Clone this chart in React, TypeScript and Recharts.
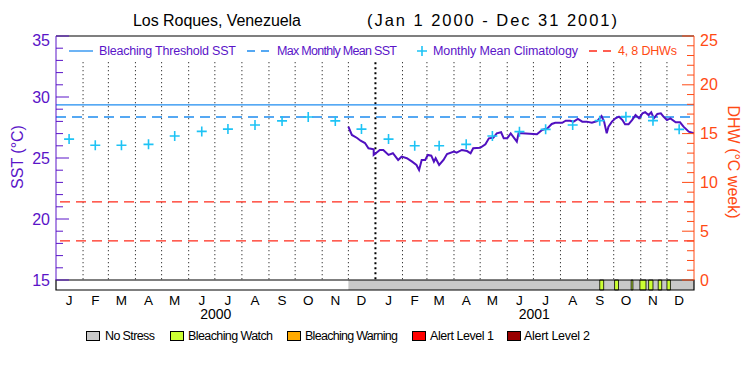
import React from 'react';
import { ComposedChart, Line, Scatter, XAxis, YAxis, ReferenceLine, ReferenceArea } from 'recharts';

// ---------------- DATA ----------------
const monthLetters = ['J', 'F', 'M', 'A', 'M', 'J', 'J', 'A', 'S', 'O', 'N', 'D'];
// days since Jan 1 2000 at which each month begins (2000-2001)
const monthStartDays = [0, 31, 60, 91, 121, 152, 182, 213, 244, 274, 305, 335, 366, 397, 425, 456, 486, 517, 547, 578, 609, 639, 670, 700];
const monthMidDays = [15, 45, 75, 106, 136, 167, 197, 228, 259, 289, 320, 350, 381, 411, 439, 470, 500, 531, 561, 592, 623, 653, 684, 714];
const yearLabels = ['2000', '2001'];
const yearMidDays = [183, 548];
const yearBoundaryDay = 366;
const totalDays = 731;

// Monthly mean climatology (°C), read at mid-month
const climValues = [26.55, 26.05, 26.05, 26.12, 26.8, 27.18, 27.37, 27.7, 28.04, 28.36, 28.04, 27.37,
  26.55, 26.0, 26.0, 26.12, 26.8, 27.16, 27.35, 27.7, 28.06, 28.39, 28.06, 27.35];

// Satellite SST (°C)
const sstDays = [335, 339, 345, 349, 354, 358, 364, 364, 371, 375, 381, 386, 392, 396, 402, 408, 413, 416, 419, 423,
  426, 430, 433, 435, 439, 444, 448, 456, 459, 465, 471, 475, 478, 486, 492, 496, 501, 505, 510, 513,
  517, 521, 528, 530, 534, 551, 557, 563, 568, 572, 580, 584, 589, 593, 598, 603, 608, 614, 620, 625,
  628, 631, 633, 637, 641, 645, 649, 652, 656, 660, 664, 668, 672, 675, 679, 682, 685, 689, 693, 696,
  700, 704, 710, 715, 719, 725, 731];
const sstValues = [27.57, 26.89, 26.64, 26.42, 26.23, 25.80, 25.71, 25.25, 25.66, 25.66, 25.25, 25.39, 24.84, 25.11, 24.98, 24.70, 24.43, 24.02, 24.84, 24.84,
  25.25, 25.19, 24.70, 24.98, 24.43, 24.84, 25.33, 25.52, 25.43, 25.66, 25.57, 25.39, 25.80, 25.84, 26.12, 26.61, 26.66, 27.02, 27.11, 26.61,
  26.61, 27.02, 26.34, 27.02, 27.02, 26.94, 27.30, 27.43, 27.79, 27.89, 27.89, 28.06, 28.06, 27.98, 28.20, 27.98, 27.98, 27.89, 28.03, 28.44,
  27.98, 27.02, 27.57, 27.98, 28.25, 28.39, 28.11, 27.76, 27.76, 28.11, 28.52, 28.25, 28.66, 28.75, 28.52, 28.75, 28.25, 28.61, 28.66, 28.39,
  28.11, 28.25, 27.93, 27.93, 27.57, 27.16, 27.02];

const bleachingThreshold = 29.36;
const maxMonthlyMean = 28.36;
const dhwLevels = [4, 8];

// Stress level bar
const noStressStart = 335;
const watchStarts = [623, 640, 659, 669, 679, 690, 700];
const watchEnds = [627.5, 644.5, 661, 676, 684, 694, 704];

const sstTicks = [15, 16, 17, 18, 19, 20, 21, 22, 23, 24, 25, 26, 27, 28, 29, 30, 31, 32, 33, 34, 35];
const dhwTicks = [0, 1, 2, 3, 4, 5, 6, 7, 8, 9, 10, 11, 12, 13, 14, 15, 16, 17, 18, 19, 20, 21, 22, 23, 24, 25];

const stressLabels = ['No Stress', 'Bleaching Watch', 'Bleaching Warning', 'Alert Level 1', 'Alert Level 2'];
const stressColors = ['#c8c8c8', '#ccff33', '#ffaa00', '#ff0000', '#990000'];

// ---------------- STYLE / LAYOUT ----------------
const FONT = '"Liberation Sans", Arial, Helvetica, sans-serif';
const PURPLE = '#5a14c8';
const LINE_PURPLE = '#5010c0';
const BLUE = '#1e8cf0';
const CYAN = '#1ec3f5';
const RED = '#ff2a1a';
const ORANGE = '#ff4a14';
const W = 750;
const H = 375;
const PL = 56;
const PR = 694;
const LEGEND_BAND_SST = 32.85;
// stress bar sits just below the plot (10px tall = 0.82 °C at 12.2 px/°C)
const BAR_TOP_SST = 15;
const BAR_BOTTOM_SST = 14.18;

const sstData = sstDays.map((d, i) => ({ day: d, sst: sstValues[i] }));
const climData = monthMidDays.map((d, i) => ({ day: d, sst: climValues[i] }));
const barDomain = [{ day: 0 }, { day: totalDays }];

const stressKeyX = [86, 170, 287, 412, 507];
const stressTextX = [105, 188, 305, 430, 524];
const stressTextW = [50, 85, 93, 64, 66];

const PlusShape = (props: any) => {
  const { cx, cy } = props;
  if (cx == null || cy == null) return null;
  return <path d={`M${cx - 5},${cy}H${cx + 5}M${cx},${cy - 5}V${cy + 5}`} stroke={CYAN} strokeWidth={1.6} fill="none" />;
};

const LeftTick = (props: any) => {
  const { y, payload } = props;
  const v = payload.value;
  const major = v % 5 === 0;
  return (
    <g>
      <line x1={PL} x2={PL + (major ? 13 : 7)} y1={y} y2={y} stroke={PURPLE} strokeWidth={1} />
      {major && (
        <text x={PL - 6} y={v === 35 ? y + 4 : y} textAnchor="end" dominantBaseline="central" fill={PURPLE} fontSize={16} fontFamily={FONT}>
          {v}
        </text>
      )}
    </g>
  );
};

const RightTick = (props: any) => {
  const { y, payload } = props;
  const v = payload.value;
  const major = v % 5 === 0;
  return (
    <g>
      <line x1={PR - (major ? 12 : 7)} x2={PR} y1={y} y2={y} stroke={ORANGE} strokeWidth={1} />
      {major && (
        <text x={PR + 6} y={v === 25 ? y + 4 : y} textAnchor="start" dominantBaseline="central" fill={ORANGE} fontSize={16} fontFamily={FONT}>
          {v}
        </text>
      )}
    </g>
  );
};

const MonthTick = (props: any) => {
  const { x, payload } = props;
  const idx = monthMidDays.indexOf(payload.value);
  return (
    <text x={x} y={300} textAnchor="middle" dominantBaseline="central" fill="#000" fontSize={13.5} fontFamily={FONT}>
      {monthLetters[idx % 12]}
    </text>
  );
};

const YearTick = (props: any) => {
  const { x, payload } = props;
  const idx = yearMidDays.indexOf(payload.value);
  return (
    <text x={x} y={314} textAnchor="middle" dominantBaseline="central" fill="#000" fontSize={14} fontFamily={FONT}>
      {yearLabels[idx]}
    </text>
  );
};

export default function App() {
  return (
    <div style={{ position: 'absolute', left: 0, top: 0, width: W, height: H, background: '#fff' }}>
      <div style={{ position: 'absolute', left: 0, top: 0 }}>
        <ComposedChart width={W} height={H} margin={{ top: 36, right: 0, bottom: 95, left: 0 }}>
          <XAxis xAxisId="d" type="number" dataKey="day" domain={[0, totalDays]} hide allowDataOverflow />
          <YAxis yAxisId="sst" orientation="left" width={56} domain={[15, 35]} ticks={sstTicks} interval={0}
            tick={<LeftTick />} tickLine={false} axisLine={{ stroke: PURPLE }} allowDataOverflow />
          <YAxis yAxisId="dhw" orientation="right" width={56} domain={[0, 25]} ticks={dhwTicks} interval={0}
            tick={<RightTick />} tickLine={false} axisLine={{ stroke: ORANGE }} allowDataOverflow />
          <ReferenceLine xAxisId="d" yAxisId="sst" y={35} stroke="#000" strokeWidth={1.2} ifOverflow="visible" />
          {/* stress level bar */}
          <ReferenceArea xAxisId="d" yAxisId="sst" x1={0} x2={totalDays} y1={BAR_BOTTOM_SST} y2={BAR_TOP_SST}
            fill="#ffffff" fillOpacity={1} stroke="none" ifOverflow="visible" />
          <ReferenceArea xAxisId="d" yAxisId="sst" x1={noStressStart} x2={totalDays} y1={BAR_BOTTOM_SST} y2={BAR_TOP_SST}
            fill={stressColors[0]} fillOpacity={1} stroke="none" ifOverflow="visible" />
          {watchStarts.map((s, i) => (
            <ReferenceArea key={'w' + i} xAxisId="d" yAxisId="sst" x1={s} x2={watchEnds[i]} y1={BAR_BOTTOM_SST} y2={BAR_TOP_SST}
              fill={stressColors[1]} fillOpacity={1} stroke="#000" strokeWidth={0.8} ifOverflow="visible" />
          ))}
          <ReferenceArea xAxisId="d" yAxisId="sst" x1={0} x2={totalDays} y1={BAR_BOTTOM_SST} y2={BAR_TOP_SST}
            fill="none" fillOpacity={0} stroke="#000" strokeWidth={1.2} ifOverflow="visible" />
          {monthStartDays.slice(1).map((d) => (
            <ReferenceLine key={'m' + d} xAxisId="d" yAxisId="sst"
              segment={[{ x: d, y: LEGEND_BAND_SST }, { x: d, y: 15 }]}
              stroke="#000" strokeWidth={d === yearBoundaryDay ? 2 : 1}
              strokeDasharray={d === yearBoundaryDay ? '2 3' : '1 3'} ifOverflow="visible" />
          ))}
          <ReferenceLine xAxisId="d" yAxisId="sst" y={bleachingThreshold} stroke={BLUE} strokeWidth={1.3} />
          <ReferenceLine xAxisId="d" yAxisId="sst" y={maxMonthlyMean} stroke={BLUE} strokeWidth={1.3} strokeDasharray="10 6" />
          {dhwLevels.map((l) => (
            <ReferenceLine key={'dhw' + l} xAxisId="d" yAxisId="dhw" y={l} stroke={RED} strokeWidth={1.3} strokeDasharray="10 6" />
          ))}
          <Scatter xAxisId="d" yAxisId="sst" data={climData} dataKey="sst" shape={PlusShape} isAnimationActive={false} />
          <Line xAxisId="d" yAxisId="sst" data={sstData} dataKey="sst" type="linear" stroke={LINE_PURPLE}
            strokeWidth={2} dot={false} activeDot={false} isAnimationActive={false} />
        </ComposedChart>
      </div>

      <div style={{ position: 'absolute', left: 0, top: 0, pointerEvents: 'none' }}>
        <ComposedChart width={W} height={H} data={barDomain} margin={{ top: 280, right: W - PR, bottom: 49, left: PL }}>
          <XAxis xAxisId="m" type="number" dataKey="day" domain={[0, totalDays]} ticks={monthMidDays} interval={0}
            height={16} axisLine={false} tickLine={false} tick={<MonthTick />} allowDataOverflow />
          <XAxis xAxisId="y" type="number" dataKey="day" domain={[0, totalDays]} ticks={yearMidDays} interval={0}
            height={20} axisLine={false} tickLine={false} tick={<YearTick />} allowDataOverflow />
          <YAxis hide domain={[0, 1]} />
        </ComposedChart>
      </div>

      <svg width={W} height={H} style={{ position: 'absolute', left: 0, top: 0, pointerEvents: 'none' }} fontFamily={FONT}>
        {/* Title */}
        <text x={133} y={20} dominantBaseline="central" fontSize={16} fill="#000" textLength={168} lengthAdjust="spacing">Los Roques, Venezuela</text>
        <text x={367} y={20} dominantBaseline="central" fontSize={16.5} fill="#000" textLength={250} lengthAdjust="spacing">(Jan 1 2000 - Dec 31 2001)</text>
        {/* Axis titles */}
        <text x={17} y={157} transform="rotate(-90, 17, 157)" textAnchor="middle" dominantBaseline="central" fontSize={16} fill={PURPLE}>SST (°C)</text>
        <text x={733} y={162} transform="rotate(90, 733, 162)" textAnchor="middle" dominantBaseline="central" fontSize={16} fill={ORANGE}>DHW (°C week)</text>
        {/* Inner legend */}
        <line x1={69} x2={93} y1={51} y2={51} stroke={BLUE} strokeWidth={1.3} />
        <text x={99} y={51} dominantBaseline="central" fontSize={12.5} fill={PURPLE} textLength={137} lengthAdjust="spacing">Bleaching Threshold SST</text>
        <line x1={247} x2={269} y1={51} y2={51} stroke={BLUE} strokeWidth={1.3} strokeDasharray="8 6" />
        <text x={277} y={51} dominantBaseline="central" fontSize={12.5} fill={PURPLE} textLength={120} lengthAdjust="spacing">Max Monthly Mean SST</text>
        <path d="M417,51H427M422,46V56" stroke={CYAN} strokeWidth={1.6} />
        <text x={433} y={51} dominantBaseline="central" fontSize={12.5} fill={PURPLE} textLength={145} lengthAdjust="spacing">Monthly Mean Climatology</text>
        <line x1={589} x2={612} y1={51} y2={51} stroke={RED} strokeWidth={1.3} strokeDasharray="8 6" />
        <text x={618} y={51} dominantBaseline="central" fontSize={12.5} fill={ORANGE} textLength={59} lengthAdjust="spacing">4, 8 DHWs</text>
        {/* Stress legend */}
        {stressLabels.map((lab, i) => (
          <g key={lab}>
            <rect x={stressKeyX[i] + 0.5} y={331.5} width={13} height={9} fill={stressColors[i]} stroke="#000" strokeWidth={1} />
            <text x={stressTextX[i]} y={336} dominantBaseline="central" fontSize={12.5} fill="#000" textLength={stressTextW[i]} lengthAdjust="spacing">{lab}</text>
          </g>
        ))}
      </svg>
    </div>
  );
}
